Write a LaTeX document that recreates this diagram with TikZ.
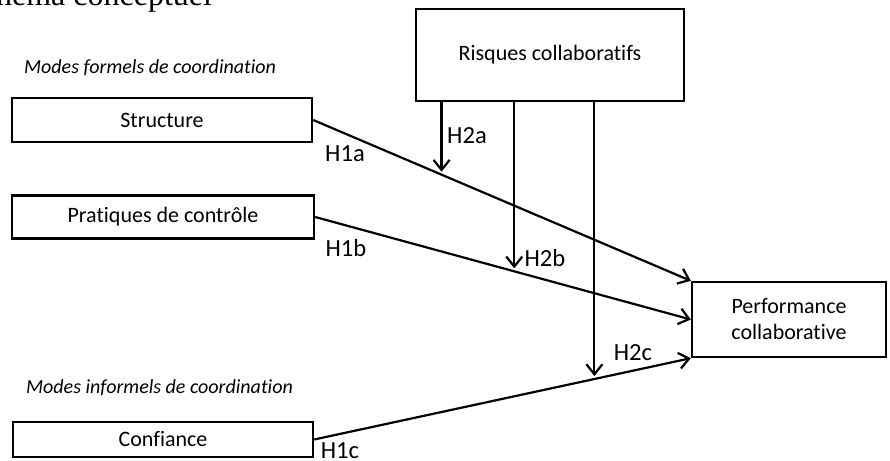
\documentclass[tikz,border=0pt]{standalone}
\usepackage{fontspec}
\setmainfont{Carlito}[Ligatures=NoCommon]
\newfontfamily\titlefont{Liberation Serif}
\usetikzlibrary{arrows.meta}

\begin{document}
\begin{tikzpicture}[x=0.5pt, y=-0.5pt, >={Straight Barb[length=5pt, width=8pt]}, line width=1.1pt,
    box/.style={draw, line width=1.2pt, inner sep=0pt, align=center, font=\fontsize{11}{13}\selectfont},
    hyp/.style={inner sep=0pt, font=\fontsize{12.3}{14}\selectfont},
    mode/.style={anchor=west, inner sep=0pt, font=\fontsize{10}{12}\selectfont\itshape}]

    \useasboundingbox (0,0) rectangle (890,461);

    % Title, cut at the top of the page
    \node[anchor=base west, inner sep=0pt, font=\titlefont\fontsize{16}{18}\selectfont] (title) at (-37,5) {Schéma conceptuel};

    % ==========================================
    % Boxes
    % ==========================================
    \node[box, minimum width=134pt, minimum height=46pt] (risk) at (550,55) {Risques collaboratifs};
    \node[box, minimum width=150pt, minimum height=22pt] (struct) at (162,120) {Structure};
    \node[box, minimum width=151pt, minimum height=21.5pt] (ctrl) at (163,217) {Pratiques de contrôle};
    \node[box, minimum width=150pt, minimum height=17.5pt] (trust) at (163,439.5) {Confiance};
    \node[box, minimum width=97pt, minimum height=37.5pt] (perf) at (789,319.5) {Performance\\collaborative};

    % Group titles
    \node[mode] (formal) at (23,68) {Modes formels de coordination};
    \node[mode] (informal) at (25,388) {Modes informels de coordination};

    % ==========================================
    % H1: direct effects
    % ==========================================
    \draw[->] (struct.east) -- (perf.north west) coordinate[pos=0.34] (m1);
    \draw[->] (ctrl.east) -- (perf.west) coordinate[pos=0.53] (m2);
    \draw[->] (trust.east) -- (perf.south west) coordinate[pos=0.744] (m3);

    % ==========================================
    % H2: moderating effects of the risks
    % ==========================================
    \draw[->, shorten >=1.5pt] (risk.south -| m1) -- (m1);
    \draw[->, shorten >=1.5pt] (risk.south -| m2) -- (m2);
    \draw[->, shorten >=1.5pt] (risk.south -| m3) -- (m3);

    % Labels
    \node[hyp] (h1a) at (345,154) {H1a};
    \node[hyp] (h1b) at (346,248) {H1b};
    \node[hyp] (h1c) at (340,451) {H1c};
    \node[hyp] (h2a) at (467,136) {H2a};
    \node[hyp] (h2b) at (545,258) {H2b};
    \node[hyp] (h2c) at (633,353) {H2c};

\end{tikzpicture}
\end{document}
